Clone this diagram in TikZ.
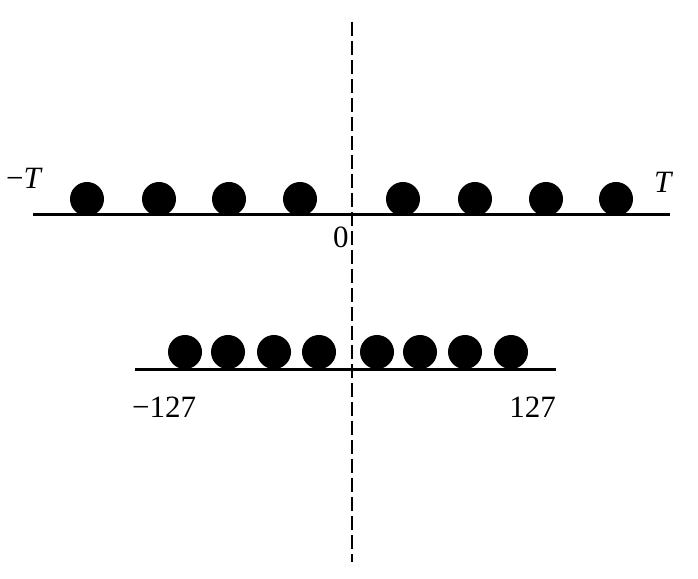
\documentclass[tikz,border=0pt]{standalone}
\usepackage{fontspec}
\setmainfont{Liberation Serif}
\begin{document}
\begin{tikzpicture}[x=1pt,y=1pt,
  dot/.style={circle,fill=black,inner sep=0pt,minimum size=34pt},
  axis/.style={line width=3pt},
  lbl/.style={font=\fontsize{31}{34}\selectfont,inner sep=0pt}]
\useasboundingbox (0,0) rectangle (698,578);
% dashed vertical
\coordinate (vt) at (352,556);
\coordinate (vb) at (352,16);
\draw[line width=2.8pt,dash pattern=on 14pt off 5pt] (vt) -- (vb);
% top axis
\coordinate (tl) at (33,363);
\coordinate (tr) at (670,363);
\draw[axis] (tl) -- (tr);
\foreach \x [count=\i] in {87,159,229,300,403,475,546,616}
  \node[dot] (t\i) at (\x,379) {};
\node[lbl,anchor=base west] (mT) at (6,389) {−\textit{T}};
\node[lbl,anchor=base west] (pT) at (654,385) {\textit{T}};
\node[lbl,anchor=base west] (zero) at (333,330) {0};
% bottom axis
\coordinate (bl) at (135,208);
\coordinate (br) at (556,208);
\draw[axis] (bl) -- (br);
\foreach \x [count=\i] in {185,228,274,319,377,420,465,511}
  \node[dot] (b\i) at (\x,226) {};
\node[lbl,anchor=base west] (m127) at (132,160) {−127};
\node[lbl,anchor=base east] (p127) at (556,160) {127};
\end{tikzpicture}
\end{document}
